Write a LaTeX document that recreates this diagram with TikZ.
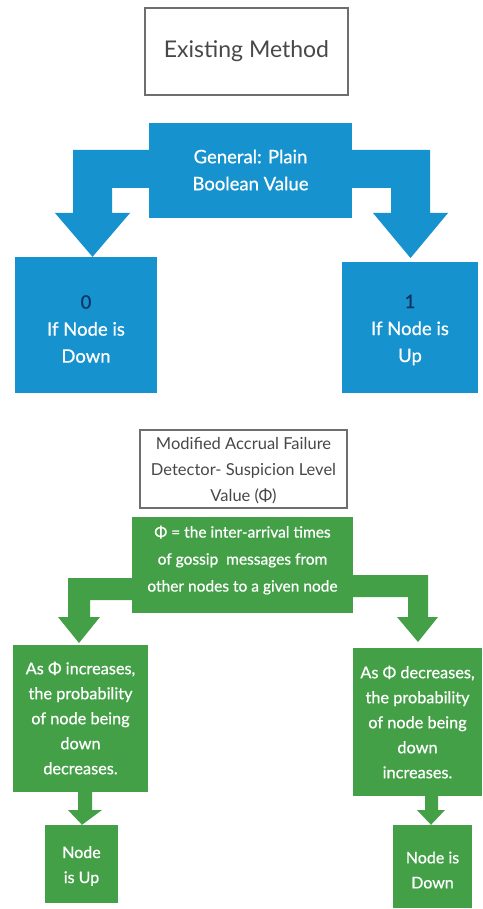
\documentclass[tikz,border=0pt]{standalone}
\usepackage{fontspec}
\setmainfont{Lato}
\newfontfamily\latomed[FakeBold=0.7]{Lato}
\usetikzlibrary{calc}
\definecolor{bluec}{RGB}{22,146,206}
\definecolor{greenc}{RGB}{67,160,71}
\definecolor{navyc}{RGB}{12,52,96}
\definecolor{grayt}{RGB}{72,72,72}
\definecolor{grayb}{RGB}{110,110,110}
\tikzset{
  outline/.style={draw=grayb, line width=1.3pt, fill=white, inner sep=0pt},
  bluebox/.style={fill=bluec, draw=none, inner sep=0pt},
  greenbox/.style={fill=greenc, draw=none, inner sep=0pt},
  wtext/.style={text=white, align=center, inner sep=0pt},
  gtext/.style={text=grayt, align=center, inner sep=0pt},
}
\begin{document}
\begin{tikzpicture}[x=1pt,y=-1pt]
\useasboundingbox (0,0) rectangle (482,909);
% ---------- Existing method ----------
\node[outline, minimum width=203pt, minimum height=87pt] (em) at (246.5,51.5) {};
\node[gtext, font=\fontsize{23}{28}\selectfont] (emt) at (em.center) {Existing Method};

\node[bluebox, minimum width=203pt, minimum height=95pt] (gen) at (250.5,170.5) {};
\node[wtext, font=\latomed\fontsize{18.5}{27}\selectfont] (gent) at (250.5,170) {General: Plain\\Boolean Value};

\node[bluebox, minimum width=142pt, minimum height=136pt] (ln) at (86,325) {};
\node[wtext, font=\latomed\fontsize{18.5}{27}\selectfont] (lnt) at (86,329) {\textcolor{navyc}{0}\\If Node is\\Down};

\node[bluebox, minimum width=136pt, minimum height=131pt] (rn) at (410,327.5) {};
\node[wtext, font=\latomed\fontsize{18.5}{27}\selectfont] (rnt) at (410,330) {\textcolor{navyc}{1}\\If Node is\\Up};

% block arrows (blue)
\fill[bluec] (gen.west |- 0,150) -- (73,150) -- (73,213) -- (55,213)
  -- (92.5,257 |- ln.north) -- (130,213) -- (112,213) -- (112,188) -- (gen.west |- 0,188) -- cycle;
\fill[bluec] (gen.east |- 0,150) -- (430,150) -- (430,213) -- (448,213)
  -- (410.5,258) -- (373,213) -- (391,213) -- (391,188) -- (gen.east |- 0,188) -- cycle;

% ---------- Modified accrual ----------
\node[outline, line width=1.1pt, minimum width=207pt, minimum height=78pt] (ma) at (243.5,469) {};
\node[gtext, font=\fontsize{16.5}{26}\selectfont] (mat) at (243.5,471) {Modified Accrual Failure\\Detector- Suspicion Level\\Value (Φ)};

\node[greenbox, minimum width=221pt, minimum height=96pt] (phi) at (242.5,565) {};
\node[wtext, font=\latomed\fontsize{15.5}{27}\selectfont] (phit) at (242.5,560) {Φ = the inter-arrival times\\of gossip\ \ messages from\\other nodes to a given node};

\node[greenbox, minimum width=135pt, minimum height=147pt] (lg) at (80.5,718.5) {};
\node[wtext, font=\latomed\fontsize{16.3}{25}\selectfont] (lgt) at (80.5,718) {As Φ increases,\\the probability\\of node being\\down\\decreases.};

\node[greenbox, minimum width=129pt, minimum height=148pt] (rg) at (417.5,722) {};
\node[wtext, font=\latomed\fontsize{16.3}{25}\selectfont] (rgt) at (417.5,722) {As Φ decreases,\\the probability\\of node being\\down\\increases.};

% block arrows (green)
\fill[greenc] (phi.west |- 0,578) -- (68,578) -- (68,617) -- (58,617)
  -- (79,643) -- (100,617) -- (90,617) -- (90,600) -- (phi.west |- 0,600) -- cycle;
\fill[greenc] (phi.east |- 0,575) -- (428,575) -- (428,617) -- (438,617)
  -- (418,642) -- (397,617) -- (408,617) -- (408,597) -- (phi.east |- 0,597) -- cycle;

% small boxes
\node[greenbox, minimum width=73pt, minimum height=78pt] (up) at (81.5,864) {};
\node[wtext, font=\latomed\fontsize{16}{25}\selectfont] (upt) at (81.5,866) {Node\\is Up};

\node[greenbox, minimum width=79pt, minimum height=83pt] (dn) at (432.5,866.5) {};
\node[wtext, font=\latomed\fontsize{16}{25}\selectfont] (dnt) at (432.5,870) {Node is\\Down};

% small arrows
\fill[greenc] (78,0 |- lg.south) -- (78,810) -- (68,810) -- (82,825 |- up.north)
  -- (102,810) -- (92,810) -- (92,0 |- lg.south) -- cycle;
\fill[greenc] (425,0 |- rg.south) -- (425,810) -- (417,810) -- (431,825 |- dn.north)
  -- (445,810) -- (438,810) -- (438,0 |- rg.south) -- cycle;
\end{tikzpicture}
\end{document}
